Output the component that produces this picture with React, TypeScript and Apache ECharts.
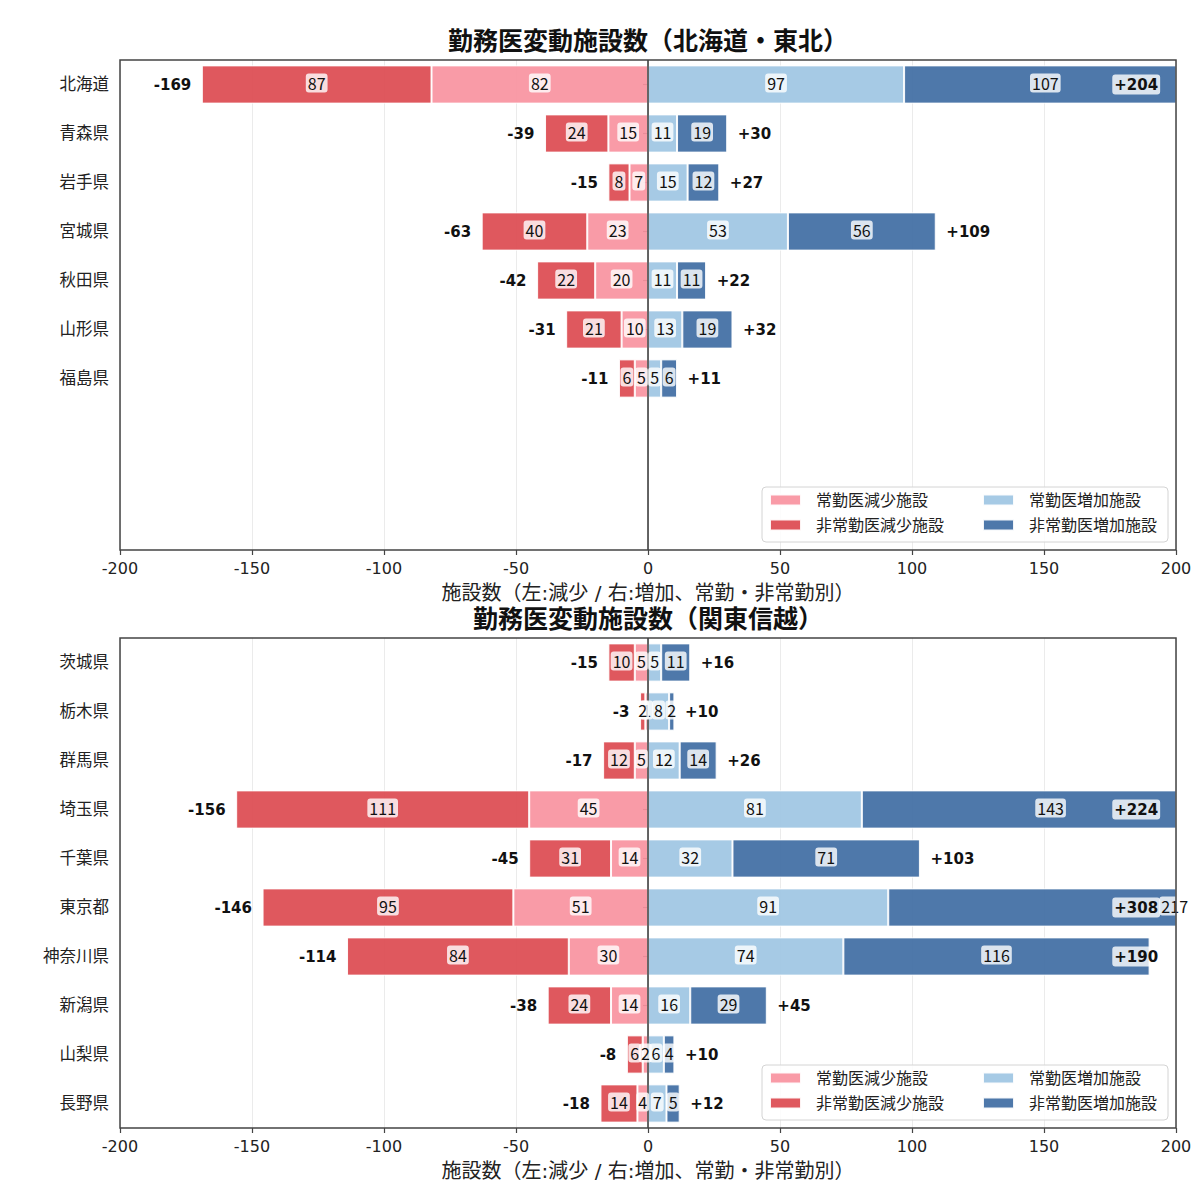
import React, { useEffect, useRef } from 'react';
import * as echarts from 'echarts';

const FONT = 'DejaVu Sans, "Noto Sans CJK JP", sans-serif';
const LABEL_FONT = '"Noto Sans CJK JP", "DejaVu Sans", sans-serif';

// 北海道・東北
const tohokuTitle = '勤務医変動施設数（北海道・東北）';
const tohokuPrefs = ['北海道', '青森県', '岩手県', '宮城県', '秋田県', '山形県', '福島県'];
const tohokuFullDec = [82, 15, 7, 23, 20, 10, 5];
const tohokuPartDec = [87, 24, 8, 40, 22, 21, 6];
const tohokuFullInc = [97, 11, 15, 53, 11, 13, 5];
const tohokuPartInc = [107, 19, 12, 56, 11, 19, 6];

// 関東信越
const kantoTitle = '勤務医変動施設数（関東信越）';
const kantoPrefs = ['茨城県', '栃木県', '群馬県', '埼玉県', '千葉県', '東京都', '神奈川県', '新潟県', '山梨県', '長野県'];
const kantoFullDec = [5, 1, 5, 45, 14, 51, 30, 14, 2, 4];
const kantoPartDec = [10, 2, 12, 111, 31, 95, 84, 24, 6, 14];
const kantoFullInc = [5, 8, 12, 81, 32, 91, 74, 16, 6, 7];
const kantoPartInc = [11, 2, 14, 143, 71, 217, 116, 29, 4, 5];

const seriesNames = ['常勤医減少施設', '非常勤医減少施設', '常勤医増加施設', '非常勤医増加施設'];
const xAxisName = '施設数（左:減少 / 右:増加、常勤・非常勤別）';
const xMin = -200;
const xMax = 200;
const xStep = 50;

const PINK = '#f892a0';
const RED = '#dc4a50';
const LBLUE = '#9ec5e3';
const DBLUE = '#3f6ca3';

const SLOTS = 10;
const GRID_LEFT = 120;
const GRID_W = 1056;
const GRID_H = 490;
const GRID_TOPS = [60, 638];
const TOTAL_OFFSET = 4;
const INSIDE_LIMIT = 180;
const INSIDE_X = 194;

type Panel = {
  title: string;
  prefs: string[];
  fullDec: number[];
  partDec: number[];
  fullInc: number[];
  partInc: number[];
};

const panels: Panel[] = [
  { title: tohokuTitle, prefs: tohokuPrefs, fullDec: tohokuFullDec, partDec: tohokuPartDec, fullInc: tohokuFullInc, partInc: tohokuPartInc },
  { title: kantoTitle, prefs: kantoPrefs, fullDec: kantoFullDec, partDec: kantoPartDec, fullInc: kantoFullInc, partInc: kantoPartInc },
];

type LabelRow = { x: number; cat: number; text: string; kind: 'seg' | 'left' | 'right' | 'inside' };

function labelRows(p: Panel): LabelRow[] {
  const rows: LabelRow[] = [];
  p.prefs.forEach((_, i) => rows.push({ x: -p.fullDec[i] / 2, cat: i, text: String(p.fullDec[i]), kind: 'seg' }));
  p.prefs.forEach((_, i) => rows.push({ x: -(p.fullDec[i] + p.partDec[i] / 2), cat: i, text: String(p.partDec[i]), kind: 'seg' }));
  p.prefs.forEach((_, i) => rows.push({ x: p.fullInc[i] / 2, cat: i, text: String(p.fullInc[i]), kind: 'seg' }));
  p.prefs.forEach((_, i) => rows.push({ x: p.fullInc[i] + p.partInc[i] / 2, cat: i, text: String(p.partInc[i]), kind: 'seg' }));
  p.prefs.forEach((_, i) => {
    const dec = p.fullDec[i] + p.partDec[i];
    const inc = p.fullInc[i] + p.partInc[i];
    rows.push({ x: -(dec + TOTAL_OFFSET), cat: i, text: '-' + dec, kind: 'left' });
    if (inc > INSIDE_LIMIT) rows.push({ x: INSIDE_X, cat: i, text: '+' + inc, kind: 'inside' });
    else rows.push({ x: inc + TOTAL_OFFSET, cat: i, text: '+' + inc, kind: 'right' });
  });
  return rows;
}

function buildOption() {
  const grid: any[] = [];
  const xAxis: any[] = [];
  const yAxis: any[] = [];
  const series: any[] = [];
  const legend: any[] = [];
  const title: any[] = [];
  const graphic: any[] = [];

  panels.forEach((p, g) => {
    const top = GRID_TOPS[g];
    const cats = p.prefs.slice();
    while (cats.length < SLOTS) cats.push(' '.repeat(cats.length - p.prefs.length + 1));

    title.push({
      text: p.title,
      left: GRID_LEFT + GRID_W / 2,
      textAlign: 'center',
      top: top - 31,
      padding: 0,
      textStyle: { fontSize: 25, fontWeight: 'bold', color: '#111', fontFamily: FONT },
    });

    grid.push({ left: GRID_LEFT, top, width: GRID_W, height: GRID_H, show: false });

    xAxis.push({
      gridIndex: g,
      type: 'value',
      min: xMin,
      max: xMax,
      interval: xStep,
      axisLine: { show: false },
      axisTick: { show: true, length: 5, lineStyle: { color: '#444', width: 1.2 } },
      axisLabel: { fontSize: 16, color: '#222', fontFamily: FONT, margin: 10 },
      splitLine: { show: true, lineStyle: { color: '#ebebeb', width: 1 } },
      name: xAxisName,
      nameLocation: 'middle',
      nameGap: 33,
      nameTextStyle: { fontSize: 20, color: '#222', fontFamily: FONT },
    });

    yAxis.push({
      gridIndex: g,
      type: 'category',
      data: cats,
      inverse: true,
      axisLine: { show: false },
      axisTick: {
        show: true,
        alignWithLabel: true,
        length: 5,
        interval: (_i: number, v: string) => v.trim() !== '',
        lineStyle: { color: '#444', width: 1.2 },
      },
      axisLabel: { fontSize: 16.5, color: '#222', fontFamily: FONT, margin: 11, interval: 0 },
      splitLine: { show: false },
    });

    const segs = [
      { name: seriesNames[0], vals: p.fullDec, sign: -1, color: PINK },
      { name: seriesNames[1], vals: p.partDec, sign: -1, color: RED },
      { name: seriesNames[2], vals: p.fullInc, sign: 1, color: LBLUE },
      { name: seriesNames[3], vals: p.partInc, sign: 1, color: DBLUE },
    ];
    segs.forEach((s, k) => {
      series.push({
        type: 'bar',
        name: s.name,
        xAxisIndex: g,
        yAxisIndex: g,
        stack: 'diverge' + g,
        barWidth: '78%',
        data: s.vals.map((v) => s.sign * v),
        itemStyle: { color: s.color, opacity: 0.92, borderColor: '#ffffff', borderWidth: 1 },
        emphasis: { disabled: true },
        silent: true,
        markLine:
          k === 0
            ? {
                silent: true,
                symbol: ['none', 'none'],
                label: { show: false },
                lineStyle: { color: '#333', width: 1.5, type: 'solid' },
                emphasis: { disabled: true },
                data: [{ xAxis: 0 }],
              }
            : undefined,
      });
    });

    const rows = labelRows(p);
    series.push({
      type: 'custom',
      coordinateSystem: 'cartesian2d',
      xAxisIndex: g,
      yAxisIndex: g,
      silent: true,
      clip: false,
      z: 10,
      encode: { x: 0, y: 1 },
      data: rows.map((r) => [r.x, r.cat]),
      renderItem: (params: any, api: any) => {
        const r = rows[params.dataIndex];
        const pt = api.coord([api.value(0), api.value(1)]);
        const seg = r.kind === 'seg';
        const boxed = seg || r.kind === 'inside';
        const align = seg ? 'center' : r.kind === 'right' ? 'left' : 'right';
        return {
          type: 'text',
          x: pt[0],
          y: pt[1] - (seg ? 1.5 : 0),
          style: {
            text: r.text,
            align,
            verticalAlign: 'middle',
            fontSize: seg ? 16 : 15,
            fontWeight: seg ? 'normal' : 'bold',
            fontFamily: seg ? LABEL_FONT : FONT,
            fill: '#111',
            backgroundColor: boxed ? 'rgba(255,255,255,0.8)' : 'transparent',
            padding: boxed ? (seg ? [2, 2, 1, 2] : [3, 2, 2, 2]) : 0,
            borderRadius: 3,
          },
        };
      },
    });

    const legendCommon = {
      orient: 'vertical',
      top: top + 431,
      itemWidth: 31,
      itemHeight: 11,
      itemGap: 7,
      icon: 'rect',
      padding: 0,
      selectedMode: false,
      z: 6,
      textStyle: { fontSize: 16, color: '#222', fontFamily: FONT, lineHeight: 18, padding: [0, 0, 0, 10] },
    };
    legend.push({ ...legendCommon, left: 769, data: [seriesNames[0], seriesNames[1]] });
    legend.push({ ...legendCommon, left: 982, data: [seriesNames[2], seriesNames[3]] });

    graphic.push({
      type: 'rect',
      z: 5,
      shape: { x: 762, y: top + 427, width: 406, height: 55, r: 4 },
      style: { fill: 'rgba(255,255,255,0.85)', stroke: '#d4d4d4', lineWidth: 1 },
    });
    graphic.push({
      type: 'rect',
      z: 20,
      silent: true,
      shape: { x: GRID_LEFT, y: top, width: GRID_W, height: GRID_H },
      style: { fill: 'none', stroke: '#444', lineWidth: 1.5 },
    });
  });

  return {
    animation: false,
    backgroundColor: '#ffffff',
    textStyle: { fontFamily: FONT },
    title,
    grid,
    xAxis,
    yAxis,
    legend,
    series,
    graphic: { elements: graphic },
  };
}

export default function App() {
  const ref = useRef<HTMLDivElement>(null);
  useEffect(() => {
    if (!ref.current) return;
    const chart = echarts.init(ref.current, null, { renderer: 'svg', width: 1200, height: 1200 });
    chart.setOption(buildOption() as any);
    return () => chart.dispose();
  }, []);
  return <div ref={ref} style={{ position: 'absolute', left: 0, top: 0, width: 1200, height: 1200 }} />;
}
